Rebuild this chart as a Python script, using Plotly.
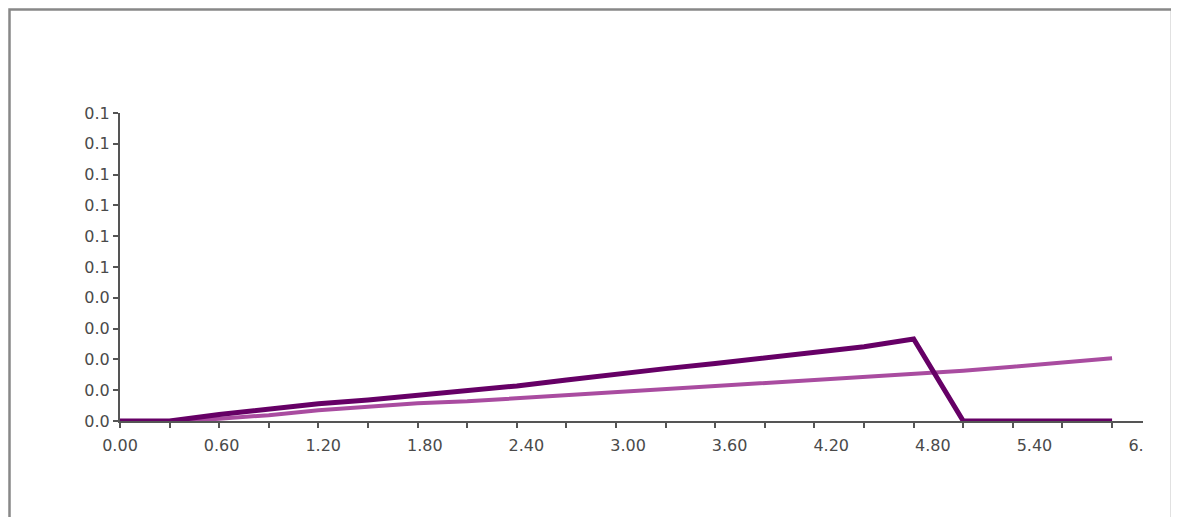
import plotly.graph_objects as go

# x categories (step 0.3)
x_values = [0.0, 0.3, 0.6, 0.9, 1.2, 1.5, 1.8, 2.1, 2.4, 2.7, 3.0,
            3.3, 3.6, 3.9, 4.2, 4.5, 4.8, 5.1, 5.4, 5.7, 6.0]

dark_series = [0.0, 0.0, 0.0021, 0.0038, 0.0056, 0.0068, 0.0082, 0.0100, 0.0114,
               0.0133, 0.0153, 0.0170, 0.0187, 0.0204, 0.0221, 0.0241, 0.0266,
               0.0, 0.0, 0.0, 0.0]

pink_series = [0.0, 0.0, 0.0007, 0.0019, 0.0035, 0.0048, 0.0058, 0.0064, 0.0074,
               0.0084, 0.0095, 0.0104, 0.0114, 0.0122, 0.0133, 0.0144, 0.0153,
               0.0163, 0.0176, 0.0190, 0.0204]

x_label_vals = [0.0, 0.6, 1.2, 1.8, 2.4, 3.0, 3.6, 4.2, 4.8, 5.4, 6.0]
x_label_text = ["0.00", "0.60", "1.20", "1.80", "2.40", "3.00", "3.60",
                "4.20", "4.80", "5.40", "6."]

y_tick_vals = [0.0, 0.01, 0.02, 0.03, 0.04, 0.05, 0.06, 0.07, 0.08, 0.09, 0.10]
y_tick_text = ["0.0", "0.0", "0.0", "0.0", "0.0", "0.1", "0.1", "0.1", "0.1", "0.1", "0.1"]

W, H = 1171, 509
ML, MR, MT, MB = 112, 36, 105, 96
PW, PH = W - ML - MR, H - MT - MB

fig = go.Figure()
fig.add_trace(go.Scatter(x=x_values, y=pink_series, mode="lines",
                         line=dict(color="#A94CA0", width=4), showlegend=False))
fig.add_trace(go.Scatter(x=x_values, y=dark_series, mode="lines",
                         line=dict(color="#660066", width=5), showlegend=False))

axis_font = dict(family="DejaVu Sans, sans-serif", size=16, color="#4a4a4a")

fig.update_layout(
    width=W, height=H,
    margin=dict(l=ML, r=MR, t=MT, b=MB),
    paper_bgcolor="white", plot_bgcolor="white",
    xaxis=dict(range=[0, 6.187], tickmode="array", tickvals=x_values,
               showticklabels=False, ticks="outside", ticklen=5, tickwidth=2,
               tickcolor="#555555", showline=True, linecolor="#555555", linewidth=2,
               showgrid=False, zeroline=False),
    xaxis2=dict(overlaying="x", side="bottom", range=[0, 6.041], tickmode="array",
                tickvals=x_label_vals, ticktext=x_label_text, tickfont=axis_font,
                ticks="", showline=False, showgrid=False, zeroline=False,
                ticklabelstandoff=13),
    yaxis=dict(range=[0, 0.1], tickmode="array", tickvals=y_tick_vals,
               ticktext=y_tick_text, tickfont=axis_font, ticks="outside",
               ticklen=5, tickwidth=2, tickcolor="#555555", showline=True,
               linecolor="#555555", linewidth=2, showgrid=False, zeroline=False),
    shapes=[dict(type="rect", xref="paper", yref="paper",
                 x0=(1.5 - ML) / PW, x1=(1164 - ML) / PW,
                 y0=-0.6, y1=(PH + MT - 1.5) / PH,
                 line=dict(color="#888888", width=2.5), layer="below")],
)
# empty trace that activates xaxis2 (label positions)
fig.add_trace(go.Scatter(x=[None], y=[None], xaxis="x2", showlegend=False,
                         hoverinfo="skip"))

fig.write_html("out.html")
